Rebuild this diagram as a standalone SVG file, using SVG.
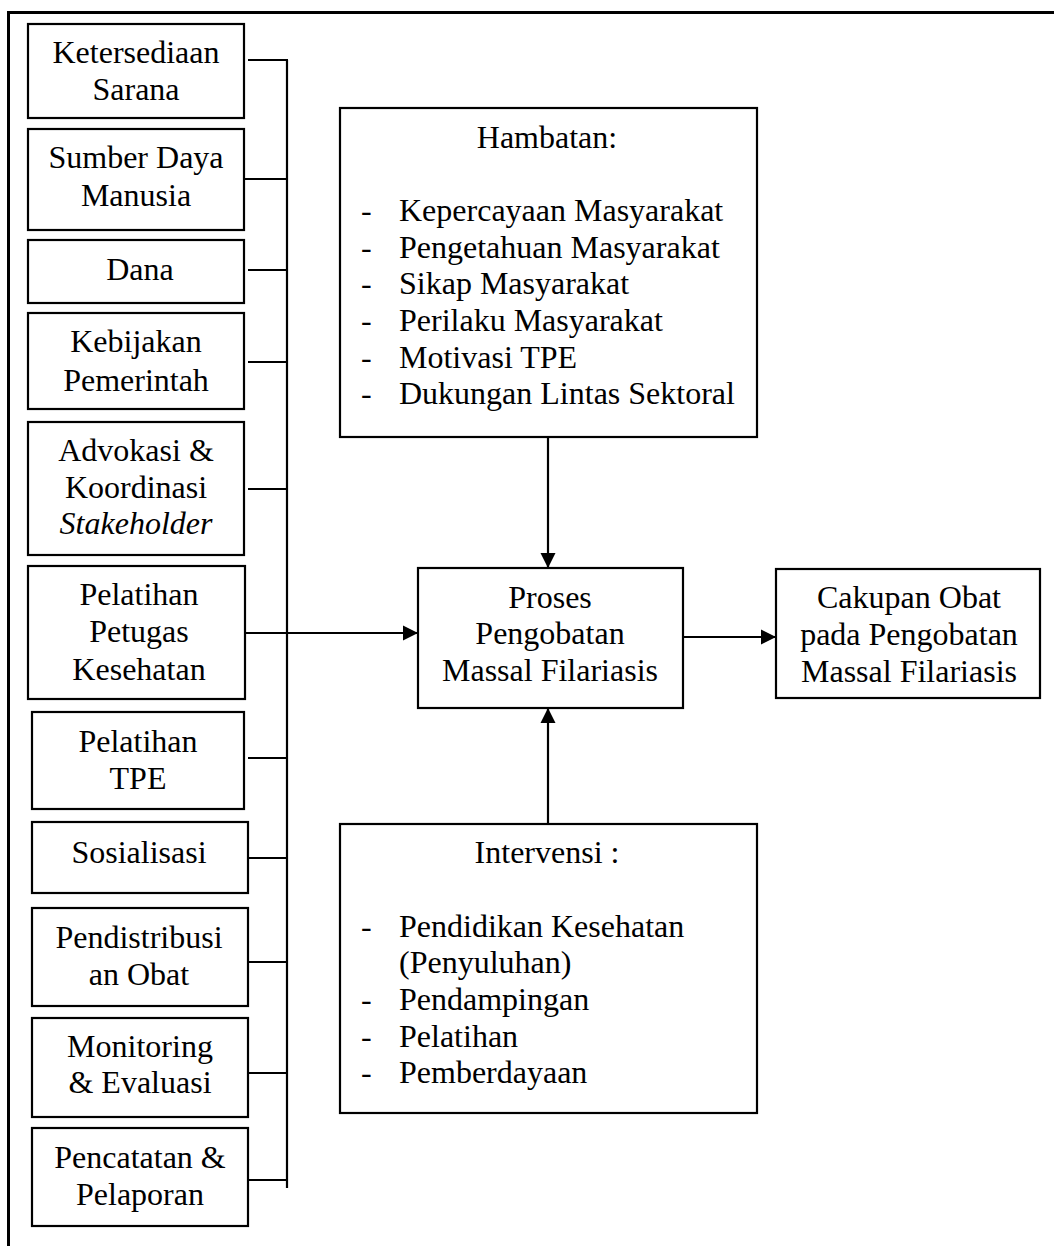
<svg xmlns="http://www.w3.org/2000/svg" width="1054" height="1246" viewBox="0 0 1054 1246">
<style>
.box{fill:#fff;stroke:#000;stroke-width:2.2}
.t{font-family:"Liberation Serif","Times New Roman",serif;font-size:32px;fill:#000}
.c{text-anchor:middle}
.ln{stroke:#000;stroke-width:2.2;fill:none}
</style>
<defs>
<marker id="ah" markerUnits="userSpaceOnUse" markerWidth="16" markerHeight="16" viewBox="0 0 16 16" refX="15" refY="8" orient="auto">
<path d="M0,0.5 L15,8 L0,15.5 Z" fill="#000"/>
</marker>
</defs>
<rect width="1054" height="1246" fill="#fff"/>
<g id="frame">
<path d="M1054,12.5 H8.5 V1246" fill="none" stroke="#000" stroke-width="3"/>
</g>
<g id="connectors">
<line class="ln" x1="287" y1="60" x2="287" y2="1188"/>
<line class="ln" x1="248" y1="60" x2="288" y2="60"/>
<line class="ln" x1="244" y1="179" x2="287" y2="179"/>
<line class="ln" x1="248" y1="270" x2="287" y2="270"/>
<line class="ln" x1="248" y1="362" x2="287" y2="362"/>
<line class="ln" x1="248" y1="489" x2="287" y2="489"/>
<line class="ln" x1="245" y1="633" x2="287" y2="633"/>
<line class="ln" x1="287" y1="633" x2="418" y2="633" marker-end="url(#ah)"/>
<line class="ln" x1="248" y1="758" x2="287" y2="758"/>
<line class="ln" x1="248" y1="858" x2="287" y2="858"/>
<line class="ln" x1="248" y1="962" x2="287" y2="962"/>
<line class="ln" x1="246" y1="1073" x2="287" y2="1073"/>
<line class="ln" x1="248" y1="1180" x2="287" y2="1180"/>
<line class="ln" x1="548" y1="437" x2="548" y2="568" marker-end="url(#ah)"/>
<line class="ln" x1="548" y1="824" x2="548" y2="708" marker-end="url(#ah)"/>
<line class="ln" x1="683" y1="637" x2="776" y2="637" marker-end="url(#ah)"/>
</g>
<g id="n1"><rect class="box" x="28" y="24" width="216" height="94"/>
<text class="t c" x="136" y="63">Ketersediaan</text><text class="t c" x="136" y="100">Sarana</text></g>
<g id="n2"><rect class="box" x="28" y="129" width="216" height="101"/>
<text class="t c" x="136" y="168">Sumber Daya</text><text class="t c" x="136" y="206">Manusia</text></g>
<g id="n3"><rect class="box" x="28" y="240" width="216" height="63"/>
<text class="t c" x="140" y="280">Dana</text></g>
<g id="n4"><rect class="box" x="28" y="313" width="216" height="96"/>
<text class="t c" x="136" y="352">Kebijakan</text><text class="t c" x="136" y="391">Pemerintah</text></g>
<g id="n5"><rect class="box" x="28" y="422" width="216" height="133"/>
<text class="t c" x="136" y="461">Advokasi &amp;</text><text class="t c" x="136" y="498">Koordinasi</text><text class="t c" x="136" y="534" font-style="italic">Stakeholder</text></g>
<g id="n6"><rect class="box" x="28" y="566" width="217" height="133"/>
<text class="t c" x="139" y="605">Pelatihan</text><text class="t c" x="139" y="642">Petugas</text><text class="t c" x="139" y="680">Kesehatan</text></g>
<g id="n7"><rect class="box" x="32" y="712" width="212" height="97"/>
<text class="t c" x="138" y="752">Pelatihan</text><text class="t c" x="138" y="789">TPE</text></g>
<g id="n8"><rect class="box" x="32" y="822" width="216" height="71"/>
<text class="t c" x="139" y="863">Sosialisasi</text></g>
<g id="n9"><rect class="box" x="32" y="908" width="216" height="98"/>
<text class="t c" x="139" y="948">Pendistribusi</text><text class="t c" x="139" y="985">an Obat</text></g>
<g id="n10"><rect class="box" x="32" y="1018" width="216" height="99"/>
<text class="t c" x="140" y="1057">Monitoring</text><text class="t c" x="140" y="1093">&amp; Evaluasi</text></g>
<g id="n11"><rect class="box" x="32" y="1128" width="216" height="98"/>
<text class="t c" x="140" y="1168">Pencatatan &amp;</text><text class="t c" x="140" y="1205">Pelaporan</text></g>
<g id="hambatan"><rect class="box" x="340" y="108" width="417" height="329"/>
<text class="t c" x="547" y="148">Hambatan:</text>
<text class="t" x="361" y="221">-</text><text class="t" x="399" y="221">Kepercayaan Masyarakat</text>
<text class="t" x="361" y="258">-</text><text class="t" x="399" y="258">Pengetahuan Masyarakat</text>
<text class="t" x="361" y="294">-</text><text class="t" x="399" y="294">Sikap Masyarakat</text>
<text class="t" x="361" y="331">-</text><text class="t" x="399" y="331">Perilaku Masyarakat</text>
<text class="t" x="361" y="368">-</text><text class="t" x="399" y="368">Motivasi TPE</text>
<text class="t" x="361" y="404">-</text><text class="t" x="399" y="404">Dukungan Lintas Sektoral</text></g>
<g id="proses"><rect class="box" x="418" y="568" width="265" height="140"/>
<text class="t c" x="550" y="608">Proses</text><text class="t c" x="550" y="644">Pengobatan</text><text class="t c" x="550" y="681">Massal Filariasis</text></g>
<g id="cakupan"><rect class="box" x="776" y="569" width="264" height="129"/>
<text class="t c" x="909" y="608">Cakupan Obat</text><text class="t c" x="909" y="645">pada Pengobatan</text><text class="t c" x="909" y="682">Massal Filariasis</text></g>
<g id="intervensi"><rect class="box" x="340" y="824" width="417" height="289"/>
<text class="t c" x="547" y="863">Intervensi :</text>
<text class="t" x="361" y="937">-</text><text class="t" x="399" y="937">Pendidikan Kesehatan</text>
<text class="t" x="399" y="973">(Penyuluhan)</text>
<text class="t" x="361" y="1010">-</text><text class="t" x="399" y="1010">Pendampingan</text>
<text class="t" x="361" y="1047">-</text><text class="t" x="399" y="1047">Pelatihan</text>
<text class="t" x="361" y="1083">-</text><text class="t" x="399" y="1083">Pemberdayaan</text></g>
</svg>
